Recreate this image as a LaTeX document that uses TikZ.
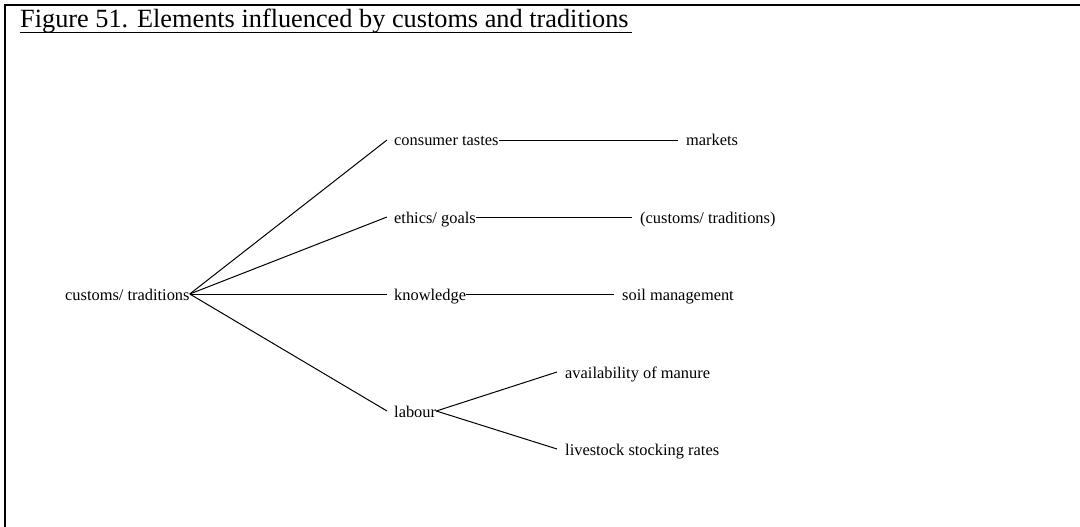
\documentclass[tikz,border=0pt]{standalone}
\usepackage{fontspec}
\setmainfont{Liberation Serif}
\begin{document}
\begin{tikzpicture}[x=1pt,y=-1pt,
  lbl/.style={anchor=base west, inner sep=0pt, font=\fontsize{16.4}{18}\selectfont},
  ttl/.style={anchor=base west, inner sep=0pt, font=\fontsize{26.3}{30}\selectfont},
  conn/.style={line width=1pt, line cap=butt},
  frame/.style={line width=2pt}]
\useasboundingbox (0,0) rectangle (1080,527);
% frame (top and left edges)
\coordinate (fbl) at (5,527);
\coordinate (ftl) at (5,5);
\coordinate (ftr) at (1080,5);
\draw[frame] (fbl) -- (ftl) -- (ftr);
% title
\node[ttl] (title) at (20,28) {Figure 51. Elements influenced by customs and traditions};
\draw[line width=1.4pt] ([yshift=-4.3pt]title.base west) -- ([shift={(3pt,-4.3pt)}]title.base east);
% nodes
\node[lbl] (ct)   at (65,300)  {customs/ traditions};
\node[lbl] (cons) at (394,146) {consumer tastes};
\node[lbl] (eth)  at (394,223) {ethics/ goals};
\node[lbl] (know) at (394,300) {knowledge};
\node[lbl] (lab)  at (394,417) {labour};
\node[lbl] (mkt)  at (686,146) {markets};
\node[lbl] (ctr)  at (640,223) {(customs/ traditions)};
\node[lbl] (soil) at (622,300) {soil management};
\node[lbl] (man)  at (565,378) {availability of manure};
\node[lbl] (live) at (565,455) {livestock stocking rates};
% connectors
\draw[conn] ([yshift=6pt]ct.base east) -- ([shift={(-7pt,6pt)}]cons.base west);
\draw[conn] ([yshift=6pt]ct.base east) -- ([shift={(-7pt,6pt)}]eth.base west);
\draw[conn] ([yshift=6pt]ct.base east) -- ([shift={(-7pt,6pt)}]know.base west);
\draw[conn] ([yshift=6pt]ct.base east) -- ([shift={(-7pt,6pt)}]lab.base west);
\draw[conn] ([yshift=6pt]cons.base east) -- ([shift={(-8pt,6pt)}]mkt.base west);
\draw[conn] ([yshift=6pt]eth.base east) -- ([shift={(-8pt,6pt)}]ctr.base west);
\draw[conn] ([yshift=6pt]know.base east) -- ([shift={(-8pt,6pt)}]soil.base west);
\draw[conn] ([yshift=6pt]lab.base east) -- ([shift={(-8pt,6pt)}]man.base west);
\draw[conn] ([yshift=6pt]lab.base east) -- ([shift={(-8pt,6pt)}]live.base west);
\end{tikzpicture}
\end{document}
